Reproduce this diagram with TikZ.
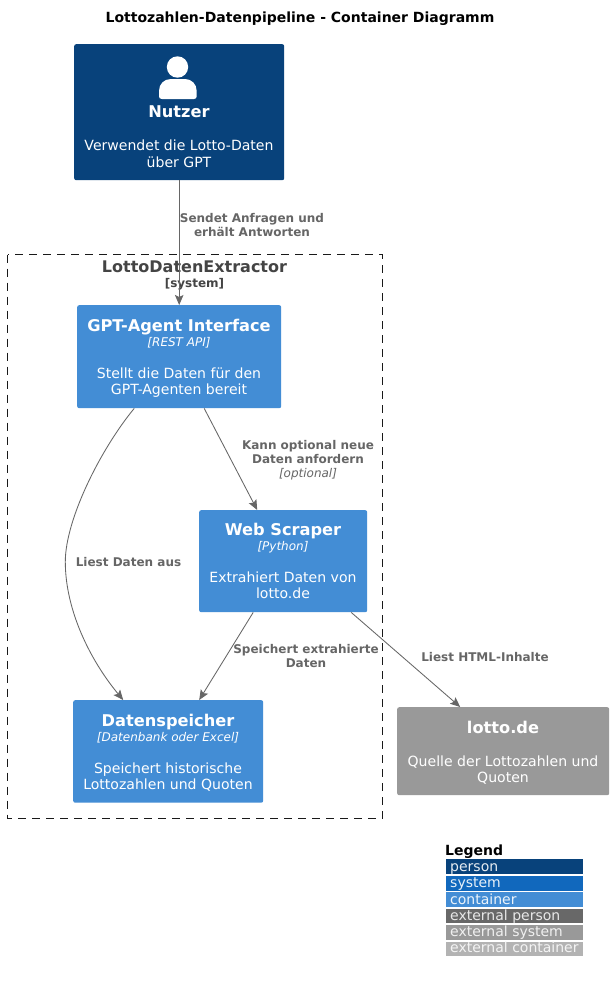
\documentclass[tikz,border=0pt]{standalone}
\usepackage{fontspec}
\setmainfont{DejaVu Sans}
\usetikzlibrary{arrows.meta,calc}
\definecolor{cperson}{HTML}{08427B}
\definecolor{csystem}{HTML}{1168BD}
\definecolor{ccontainer}{HTML}{438DD5}
\definecolor{cextperson}{HTML}{686868}
\definecolor{cextsystem}{HTML}{999999}
\definecolor{cextcontainer}{HTML}{B3B3B3}
\definecolor{cline}{HTML}{666666}
\definecolor{cbound}{HTML}{444444}
\newcommand{\fs}[1]{\fontsize{#1}{#1}\selectfont}
\newcommand{\ttl}[1]{{\fs{16.2}\bfseries #1}}
\newcommand{\tech}[1]{{\fs{12}\itshape [#1]}}
\newcommand{\dsc}[1]{{\fs{14.05}#1}}
\tikzset{
  x=1pt,y=-1pt,
  box/.style={draw=none,rounded corners=2pt,inner sep=0pt,align=center,text=white,anchor=north west},
  personbox/.style={box,fill=cperson},
  contbox/.style={box,fill=ccontainer},
  extbox/.style={box,fill=cextsystem},
  boxtext/.style={inner sep=0pt,anchor=base,text=white},
  conn/.style={draw=cline,line width=0.85pt,-{Stealth[length=10pt,width=8.5pt,inset=2pt]}},
  rel/.style={text=cline,align=center,inner sep=0pt,font=\fontsize{12}{14}\selectfont\bfseries},
  legrow/.style={anchor=north west,minimum width=137pt,inner sep=0pt},
  legtext/.style={anchor=base west,inner sep=0pt},
}
\begin{document}
\begin{tikzpicture}
\useasboundingbox (0,0) rectangle (613,982);
\fill[white] (0,0) rectangle (613,982);
\node[inner sep=0pt,anchor=base] (title) at (300,23) {\fs{14}\bfseries Lottozahlen-Datenpipeline - Container Diagramm};

% boundary
\draw[black!90,line width=0.9pt,dash pattern=on 8pt off 6pt] (7.5,254.5) rectangle (382.5,818);
\node[inner sep=0pt,anchor=base,text=cbound] (bname) at (194.5,272) {\fs{16}\bfseries LottoDatenExtractor};
\node[inner sep=0pt,anchor=base,text=cbound] (btype) at (194.5,287) {\fs{12}\bfseries [system]};

% boxes
\node[personbox,minimum width=210pt,minimum height=136pt] (nutzer) at (74,44) {};
\fill[white] (177.5,67) circle (10.7);
\fill[white] (159,96.5) -- (159,91) .. controls (159,84) and (164,79) .. (171,79) -- (185,79) .. controls (191.5,79) and (196.7,84) .. (196.7,91) -- (196.7,96.5) .. controls (196.7,98) and (195.5,99) .. (194,99) -- (162,99) .. controls (160,99) and (159,98) .. (159,96.5) -- cycle;
\node[boxtext] (nutzert) at (179,117) {\ttl{Nutzer}};
\node[boxtext] (nutzerd1) at (179,150) {\dsc{Verwendet die Lotto-Daten}};
\node[boxtext] (nutzerd2) at (179,167) {\dsc{über GPT}};

\node[contbox,minimum width=204pt,minimum height=103pt] (gpt) at (77,305) {};
\node[boxtext] (gptt) at (179,331) {\ttl{GPT-Agent Interface}};
\node[boxtext] (gptq) at (179,346) {\tech{REST API}};
\node[boxtext] (gptd1) at (179,378) {\dsc{Stellt die Daten für den}};
\node[boxtext] (gptd2) at (179,394) {\dsc{GPT-Agenten bereit}};

\node[contbox,minimum width=168pt,minimum height=102pt] (web) at (199,510) {};
\node[boxtext] (webt) at (283,535) {\ttl{Web Scraper}};
\node[boxtext] (webq) at (283,550) {\tech{Python}};
\node[boxtext] (webd1) at (283,582) {\dsc{Extrahiert Daten von}};
\node[boxtext] (webd2) at (283,598) {\dsc{lotto.de}};

\node[contbox,minimum width=190pt,minimum height=102.5pt] (store) at (73,700) {};
\node[boxtext] (storet) at (168,726) {\ttl{Datenspeicher}};
\node[boxtext] (storeq) at (168,741) {\tech{Datenbank oder Excel}};
\node[boxtext] (stored1) at (168,773) {\dsc{Speichert historische}};
\node[boxtext] (stored2) at (168,789) {\dsc{Lottozahlen und Quoten}};

\node[extbox,minimum width=212pt,minimum height=88pt] (lotto) at (397,707) {};
\node[boxtext] (lottot) at (503,733) {\ttl{lotto.de}};
\node[boxtext] (lottod1) at (503,766) {\dsc{Quelle der Lottozahlen und}};
\node[boxtext] (lottod2) at (503,782) {\dsc{Quoten}};

% connectors
\draw[conn] (nutzer.south) -- (gpt.north);
\draw[conn] ([xshift=25pt]gpt.south) -- ([xshift=-26pt]web.north);
\draw[conn] ([xshift=-45pt]gpt.south) .. controls (100,450) and (65.3,520) .. (65.3,561.7) .. controls (65.3,610) and (90,660) .. ([xshift=-45pt]store.north);
\draw[conn] ([xshift=-30pt]web.south) -- ([xshift=31pt]store.north);
\draw[conn] ([xshift=68pt]web.south) -- ([xshift=-43pt]lotto.north);

% connector labels
\node[rel] (l1) at (252,225) {Sendet Anfragen und\\erhält Antworten};
\node[rel] (l2) at (308,460) {Kann optional neue\\Daten anfordern\\{\mdseries\itshape [optional]}};
\node[rel] (l3) at (128.5,562) {Liest Daten aus};
\node[rel] (l4) at (306,656) {Speichert extrahierte\\Daten};
\node[rel] (l5) at (485,657) {Liest HTML-Inhalte};

% legend
\node[inner sep=0pt,anchor=base west] (legend) at (445,855) {\fs{14}\bfseries Legend};
\node[legrow,fill=cperson,minimum height=15pt] (r1) at (446,859) {};
\node[legrow,fill=csystem,minimum height=15.4pt] (r2) at (446,875.3) {};
\node[legrow,fill=ccontainer,minimum height=15pt] (r3) at (446,892) {};
\node[legrow,fill=cextperson,minimum height=14.5pt] (r4) at (446,908.3) {};
\node[legrow,fill=cextsystem,minimum height=15.7pt] (r5) at (446,924.3) {};
\node[legrow,fill=cextcontainer,minimum height=14.5pt] (r6) at (446,941.3) {};
\node[legtext,text=white!90!cperson] (t1) at (450,871.7) {\fs{14}person};
\node[legtext,text=white!90!csystem] (t2) at (450,887.7) {\fs{14}system};
\node[legtext,text=white!90!ccontainer] (t3) at (450,904) {\fs{14}container};
\node[legtext,text=white!85!cextperson] (t4) at (450,920) {\fs{14}external person};
\node[legtext,text=white!85!cextsystem] (t5) at (450,936.7) {\fs{14}external system};
\node[legtext,text=white!85!cextcontainer] (t6) at (450,952.7) {\fs{14}external container};
\end{tikzpicture}
\end{document}
